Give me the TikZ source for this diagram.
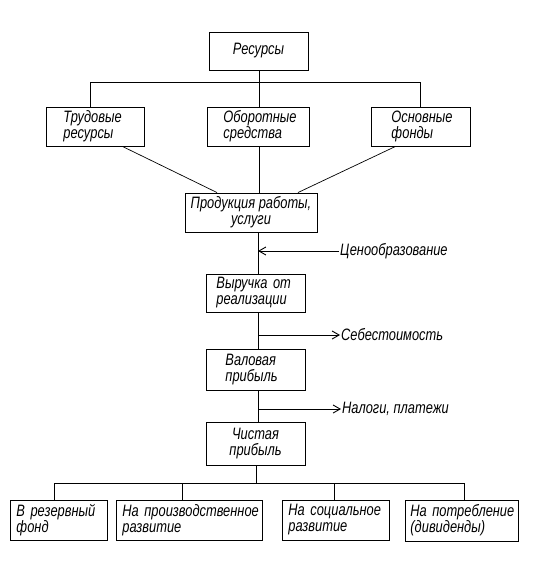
\documentclass[tikz,border=0pt]{standalone}
\usepackage{fontspec}
\newfontfamily\gost{Liberation Sans}[FakeStretch=0.78]
\usetikzlibrary{arrows.meta}
\begin{document}
\begin{tikzpicture}[x=1pt,y=-1pt,
  txt/.style={font=\gost\itshape\fontsize{16.5}{16}\selectfont},
  box/.style={txt, draw, line width=0.9pt, inner ysep=0pt, align=left},
  cbox/.style={box, align=center, inner xsep=0pt},
  lab/.style={txt, inner xsep=1pt, inner ysep=0pt, anchor=west},
  ln/.style={line width=0.9pt},
  dg/.style={line width=0.7pt},
  arr/.style={line width=0.9pt, -{Straight Barb[length=7pt,width=8pt]}}]
\useasboundingbox (0,0) rectangle (551,572);

% top
\node[cbox, minimum width=99pt, minimum height=38pt] (res) at (258.5,51) {Ресурсы};
\node[box, anchor=west, text width=64pt, inner xsep=17pt, minimum height=39pt] (trud) at (46,126.5) {Трудовые\\ресурсы};
\node[box, anchor=west, text width=70pt, inner xsep=16pt, minimum height=39pt] (obor) at (207,126.5) {Оборотные\\средства};
\node[box, anchor=west, text width=59pt, inner xsep=20pt, minimum height=39pt] (osn) at (371,126.5) {Основные\\фонды};

\node[cbox, minimum width=132pt, minimum height=39pt] (prod) at (251,212.5) {Продукция~работы,\\услуги};
\node[box, anchor=west, text width=79pt, inner xsep=10pt, minimum height=38pt] (vyr) at (206,293) {Выручка~от\\реализации};
\node[box, anchor=west, text width=61pt, inner xsep=19pt, minimum height=41pt] (val) at (206,369.5) {Валовая\\прибыль};
\node[cbox, minimum width=99pt, minimum height=43pt] (chist) at (255.5,443.5) {Чистая\\прибыль};

% bottom
\node[box, anchor=west, text width=85pt, inner xsep=6pt, minimum height=40pt] (b1) at (10,520) {В~резервный\\фонд};
\node[box, anchor=west, text width=134pt, inner xsep=6pt, minimum height=40pt] (b2) at (116,520) {На~производственное\\развитие};
\node[box, anchor=west, text width=95pt, inner xsep=6pt, minimum height=40pt] (b3) at (282,520) {На~социальное\\развитие};
\node[box, anchor=west, text width=103pt, inner xsep=5pt, minimum height=41pt] (b4) at (405,520.5) {На~потребление\\(дивиденды)};

% side labels
\node[lab] (cen) at (339,251) {Ценообразование};
\node[lab] (seb) at (340,335) {Себестоимость};
\node[lab] (nal) at (341,409) {Налоги, платежи};

% coordinates
\coordinate (bL) at (90,82);
\coordinate (bC) at (259,82);
\coordinate (bR) at (420,82);
\coordinate (m1) at (258,251);
\coordinate (m2) at (258,335);
\coordinate (m3) at (258,409);
\coordinate (cL) at (54,483);
\coordinate (cC) at (256,483);
\coordinate (c2) at (182,483);
\coordinate (c3) at (334,483);
\coordinate (cR) at (464,483);

% connectors top
\draw[ln] (res.south -| bC) -- (bC);
\draw[ln] (trud.north -| bL) -- (bL) -- (bR) -- (osn.north -| bR);
\draw[ln] (bC) -- (obor.north -| bC);
\draw[dg] ([xshift=27pt]trud.south) -- ([xshift=-34pt]prod.north);
\draw[ln] (obor.south -| bC) -- (prod.north -| bC);
\draw[dg] ([xshift=-25.5pt]osn.south) -- ([xshift=47pt]prod.north);

% main chain
\draw[ln] (prod.south -| m1) -- (vyr.north -| m1);
\draw[arr] (cen.west) -- (m1);
\draw[ln] (vyr.south -| m1) -- (val.north -| m1);
\draw[arr] (m2) -- (seb.west);
\draw[ln] (val.south -| m1) -- (chist.north -| m1);
\draw[arr] (m3) -- (nal.west);

% bottom bus
\draw[ln] (chist.south -| cC) -- (cC);
\draw[ln] (b1.north -| cL) -- (cL) -- (cR) -- (b4.north -| cR);
\draw[ln] (c2) -- (b2.north -| c2);
\draw[ln] (c3) -- (b3.north -| c3);
\end{tikzpicture}
\end{document}
